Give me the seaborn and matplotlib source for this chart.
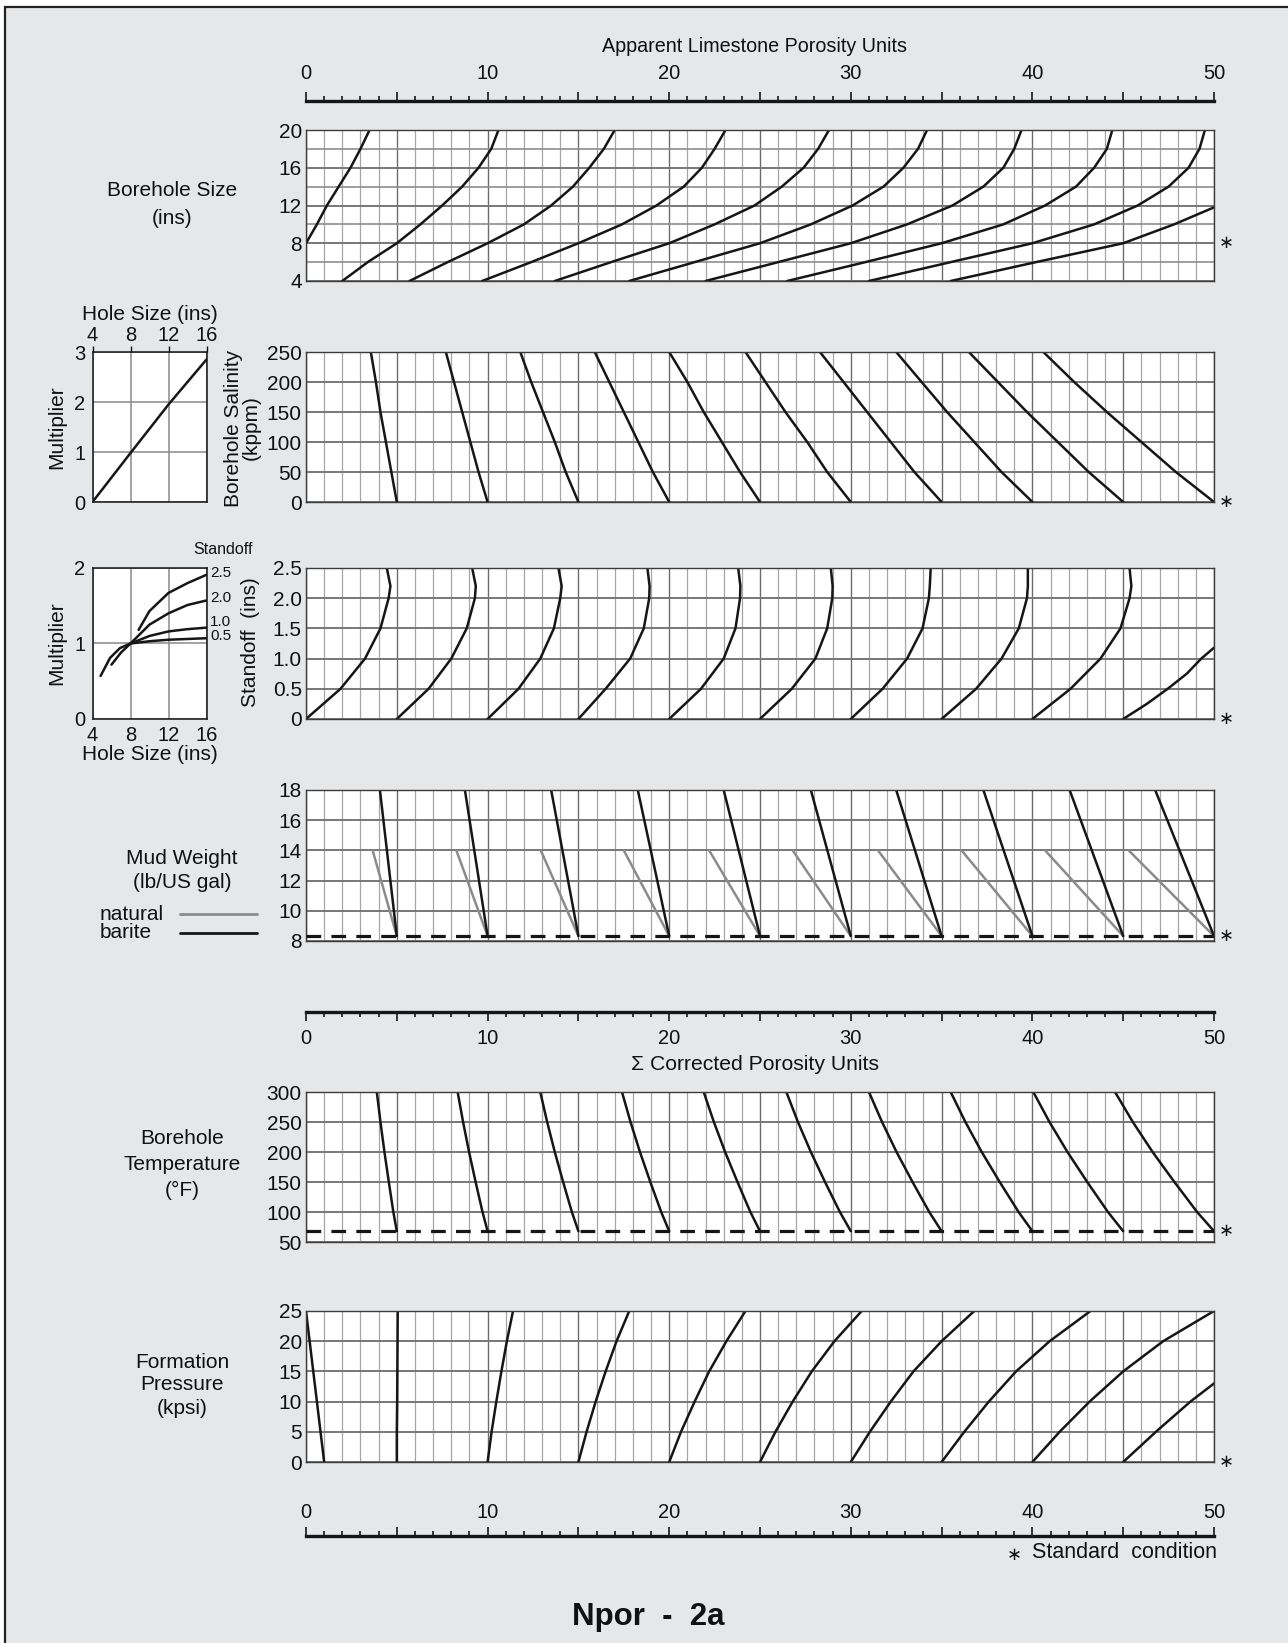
import numpy as np
import pandas as pd
import matplotlib
matplotlib.use("Agg")
import matplotlib.pyplot as plt
import seaborn as sns
from matplotlib.ticker import MultipleLocator, FixedLocator, FuncFormatter
from matplotlib.patches import Rectangle
from matplotlib.lines import Line2D
from matplotlib import font_manager

# ---------------- data ----------------
# Borehole size (ins) -> apparent porosity along each curve
BS_LEVELS = [4, 6, 8, 10, 12, 14, 16, 18, 20]
BS_C00_LEVELS = [8, 10, 12, 14, 16, 18, 20]
BS_C00 = [0.0, 0.6, 1.15, 1.8, 2.45, 3.0, 3.5]
BS_C05 = [2.0, 3.4, 5.0, 6.3, 7.5, 8.6, 9.5, 10.2, 10.6]
BS_C10 = [5.7, 7.8, 10.0, 12.0, 13.5, 14.7, 15.6, 16.4, 17.0]
BS_C15 = [9.7, 12.4, 15.0, 17.4, 19.3, 20.8, 21.8, 22.5, 23.1]
BS_C20 = [13.7, 16.8, 20.0, 22.5, 24.7, 26.2, 27.4, 28.2, 28.8]
BS_C25 = [17.8, 21.4, 25.0, 27.8, 30.1, 31.8, 32.9, 33.7, 34.2]
BS_C30 = [22.0, 26.0, 30.0, 33.1, 35.6, 37.3, 38.4, 39.0, 39.4]
BS_C35 = [26.5, 30.8, 35.0, 38.4, 40.7, 42.4, 43.4, 44.1, 44.4]
BS_C40 = [31.0, 35.5, 40.0, 43.4, 45.8, 47.5, 48.6, 49.2, 49.5]
BS_C45_LEVELS = [4, 6, 8, 10, 11.8]
BS_C45 = [35.5, 40.2, 45.0, 47.8, 50.0]

# Borehole salinity (kppm)
SAL_LEVELS = [0, 50, 100, 150, 200, 250]
SAL_C05 = [5.0, 4.7, 4.4, 4.1, 3.85, 3.57]
SAL_C10 = [10.0, 9.5, 9.05, 8.6, 8.15, 7.7]
SAL_C15 = [15.0, 14.3, 13.7, 13.05, 12.4, 11.8]
SAL_C20 = [20.0, 19.1, 18.3, 17.5, 16.7, 15.9]
SAL_C25 = [25.0, 23.9, 22.9, 21.9, 21.0, 20.0]
SAL_C30 = [30.0, 28.7, 27.6, 26.4, 25.3, 24.2]
SAL_C35 = [35.0, 33.5, 32.2, 30.9, 29.6, 28.3]
SAL_C40 = [40.0, 38.3, 36.8, 35.3, 33.9, 32.5]
SAL_C45 = [45.0, 43.1, 41.4, 39.7, 38.1, 36.5]
SAL_C50 = [50.0, 47.9, 46.0, 44.1, 42.3, 40.6]

# Standoff (ins)
SO_LEVELS = [0, 0.5, 1.0, 1.5, 2.0, 2.2, 2.5]
SO_C00 = [0.0, 1.9, 3.25, 4.1, 4.55, 4.65, 4.45]
SO_C05 = [5.0, 6.75, 8.0, 8.85, 9.3, 9.35, 9.15]
SO_C10 = [10.0, 11.7, 12.9, 13.65, 14.0, 14.08, 13.9]
SO_C15 = [15.0, 16.5, 17.85, 18.6, 18.9, 18.92, 18.8]
SO_C20 = [20.0, 21.75, 23.0, 23.65, 23.9, 23.92, 23.8]
SO_C25 = [25.0, 26.75, 28.05, 28.7, 28.98, 29.0, 28.9]
SO_C30 = [30.0, 31.75, 33.1, 33.95, 34.3, 34.35, 34.4]
SO_C35 = [35.0, 36.9, 38.3, 39.25, 39.7, 39.75, 39.75]
SO_C40 = [40.0, 42.1, 43.75, 44.85, 45.35, 45.45, 45.35]
SO_C45_LEVELS = [0, 0.25, 0.5, 0.75, 1.0, 1.18]
SO_C45 = [45.0, 46.3, 47.45, 48.5, 49.3, 50.0]

# Mud weight (lb/US gal)
MW_STANDARD = 8.33
MW_P = [5, 10, 15, 20, 25, 30, 35, 40, 45, 50]
MW_BARITE_TOP_LEVEL = 18
MW_BARITE_TOP = [4.07, 8.75, 13.5, 18.27, 23.0, 27.8, 32.5, 37.3, 42.05, 46.76]
MW_NATURAL_TOP_LEVEL = 14
MW_NATURAL_TOP = [3.67, 8.28, 12.93, 17.5, 22.2, 26.8, 31.5, 36.1, 40.7, 45.3]

# Borehole temperature (degF)
T_STANDARD = 68
T_LEVELS = [68, 100, 150, 200, 250, 300]
T_C05 = [5.0, 4.81, 4.56, 4.32, 4.10, 3.9]
T_C10 = [10.0, 9.72, 9.34, 8.98, 8.65, 8.35]
T_C15 = [15.0, 14.64, 14.16, 13.70, 13.28, 12.9]
T_C20 = [20.0, 19.56, 18.96, 18.39, 17.87, 17.4]
T_C25 = [25.0, 24.47, 23.76, 23.08, 22.46, 21.9]
T_C30 = [30.0, 29.40, 28.58, 27.80, 27.09, 26.45]
T_C35 = [35.0, 34.32, 33.40, 32.52, 31.72, 31.0]
T_C40 = [40.0, 39.24, 38.20, 37.21, 36.31, 35.5]
T_C45 = [45.0, 44.16, 43.02, 41.93, 40.94, 40.05]
T_C50 = [50.0, 49.07, 47.82, 46.62, 45.53, 44.55]

# Formation pressure (kpsi)
FP_LEVELS = [0, 5, 10, 15, 20, 25]
FP_C00 = [1.0, 0.8, 0.6, 0.4, 0.2, 0.0]
FP_C05 = [5.0, 5.0, 5.02, 5.03, 5.04, 5.05]
FP_C10 = [10.0, 10.22, 10.48, 10.76, 11.06, 11.4]
FP_C15 = [15.0, 15.45, 15.95, 16.5, 17.1, 17.8]
FP_C20 = [20.0, 20.65, 21.4, 22.2, 23.15, 24.2]
FP_C25 = [25.0, 25.85, 26.8, 27.85, 29.1, 30.6]
FP_C30 = [30.0, 31.05, 32.2, 33.45, 35.0, 36.8]
FP_C35 = [35.0, 36.25, 37.6, 39.1, 40.95, 43.2]
FP_C40 = [40.0, 41.5, 43.15, 45.0, 47.2, 50.0]
FP_C45_LEVELS = [0, 5, 10, 13]
FP_C45 = [45.0, 46.8, 48.7, 50.0]

# Inset 1: salinity multiplier vs hole size
INS1_HOLE = [4, 8, 12, 16]
INS1_MULT = [0.0, 0.98, 1.95, 2.85]

# Inset 2: standoff multiplier vs hole size
INS2_LABELS = ["2.5", "2.0", "1.0", "0.5"]
INS2_LABEL_Y = [1.94, 1.60, 1.28, 1.10]
INS2_H25 = [8.85, 10, 12, 14, 16]
INS2_M25 = [1.18, 1.43, 1.67, 1.80, 1.91]
INS2_H20 = [6.0, 7.0, 8.0, 10, 12, 14, 16]
INS2_M20 = [0.72, 0.88, 1.0, 1.25, 1.40, 1.51, 1.57]
INS2_H10 = [4.85, 5.85, 6.9, 8.0, 10, 12, 14, 16]
INS2_M10 = [0.57, 0.81, 0.94, 1.0, 1.10, 1.16, 1.19, 1.21]
INS2_H05 = [8.0, 10, 12, 14, 16]
INS2_M05 = [1.0, 1.03, 1.05, 1.06, 1.07]

SCALE_TICKS = [0, 10, 20, 30, 40, 50]

# ---------------- style ----------------
sns.set_theme(style="white")
names = {f.name for f in font_manager.fontManager.ttflist}
FONT = "Liberation Sans" if "Liberation Sans" in names else "DejaVu Sans"
plt.rcParams["font.family"] = [FONT, "DejaVu Sans"]
plt.rcParams["text.color"] = "#111111"
plt.rcParams["axes.labelcolor"] = "#111111"
plt.rcParams["xtick.color"] = "#111111"
plt.rcParams["ytick.color"] = "#111111"

W, H = 1288, 1643
fig = plt.figure(figsize=(W / 100, H / 100), dpi=100)
fig.patch.set_facecolor("white")
fig.add_artist(Rectangle((5 / W, -0.05), 1.1, 1 - 7 / H + 0.05, transform=fig.transFigure,
                         facecolor="#e6e7e9", edgecolor="#222222", lw=1.6, zorder=-10))

INK = "#161616"
TICK_FS = 15
SCALE_FS = 14.5
LABEL_FS = 15


def add_axes_px(x0, y0, x1, y1):
    return fig.add_axes([x0 / W, 1 - y1 / H, (x1 - x0) / W, (y1 - y0) / H])


def ftext(x, y, s, **kw):
    kw.setdefault("ha", "center")
    kw.setdefault("va", "center")
    kw.setdefault("fontsize", LABEL_FS)
    fig.text(x / W, 1 - y / H, s, **kw)


def curves_df(levels, xs_list):
    rows = []
    for i, (lv, xs) in enumerate(zip(levels, xs_list)):
        for l, x in zip(lv, xs):
            rows.append((i, x, l))
    return pd.DataFrame(rows, columns=["curve", "x", "y"])


def draw(ax, df, color=INK, lw=1.8):
    sns.lineplot(data=df, x="x", y="y", units="curve", estimator=None, sort=False,
                 color=color, lw=lw, ax=ax, legend=False)
    for ln in ax.get_lines():
        ln.set_solid_joinstyle("round")
    ax.set_xlabel("")
    ax.set_ylabel("")


XL, XR = 306, 1214


def main_panel(y0, y1, ylim, yticks, ylabels=None, yminor=None):
    ax = add_axes_px(XL, y0, XR, y1)
    ax.set_facecolor("white")
    ax.set_xlim(0, 50)
    ax.set_ylim(*ylim)
    ax.xaxis.set_major_locator(MultipleLocator(5))
    ax.xaxis.set_minor_locator(MultipleLocator(1))
    ax.set_yticks(yticks)
    if ylabels is not None:
        ax.set_yticklabels(ylabels)
    if yminor is not None:
        ax.yaxis.set_minor_locator(FixedLocator(yminor))
    ax.tick_params(axis="x", which="both", length=0, labelbottom=False)
    ax.tick_params(axis="y", which="both", length=0, labelsize=TICK_FS, pad=3)
    ax.grid(True, which="major", axis="x", color="#6c6c6c", lw=1.0)
    ax.grid(True, which="minor", axis="x", color="#a6a6a6", lw=0.9)
    ax.grid(True, which="major", axis="y", color="#777777", lw=1.4)
    ax.grid(True, which="minor", axis="y", color="#8e8e8e", lw=1.2)
    ax.set_axisbelow(True)
    for s in ax.spines.values():
        s.set_visible(True)
        s.set_color("#3c3c3c")
        s.set_linewidth(1.0)
    return ax


def star(ax, yval):
    ax.text(50.66, yval, "\u2217", ha="center", va="center", fontsize=13,
            family="DejaVu Sans", clip_on=False, color=INK)


def scale_axis(yline, up=True, labelpad=11.0):
    ax = add_axes_px(XL, yline - 0.5, XR, yline + 0.5)
    ax.patch.set_visible(False)
    ax.set_xlim(0, 50)
    ax.set_ylim(0, 1)
    ax.set_yticks([])
    for k in ["top", "left", "right"]:
        ax.spines[k].set_visible(False)
    ax.spines["bottom"].set_color(INK)
    ax.spines["bottom"].set_linewidth(2.4)
    ax.xaxis.set_major_locator(FixedLocator(list(range(0, 51, 5))))
    ax.xaxis.set_minor_locator(MultipleLocator(1))
    ax.xaxis.set_major_formatter(FuncFormatter(
        lambda v, p: f"{int(round(v))}" if int(round(v)) in SCALE_TICKS else ""))
    ax.tick_params(axis="x", which="both", direction="in" if up else "out",
                   bottom=True, top=False, labelbottom=not up, labeltop=up,
                   width=1.2, color=INK)
    ax.tick_params(axis="x", which="major", length=6.5, pad=labelpad, labelsize=SCALE_FS)
    ax.tick_params(axis="x", which="minor", length=3.5)
    return ax


# ---------------- top scale ----------------
scale_axis(100, up=True, labelpad=12)
ftext(755, 46, "Apparent Limestone Porosity Units", fontsize=14.2)

# ---------------- panel 1: borehole size ----------------
ax1 = main_panel(130, 281, (4, 20), [4, 8, 12, 16, 20], yminor=[6, 10, 14, 18])
bs_levels = [BS_C00_LEVELS] + [BS_LEVELS] * 8 + [BS_C45_LEVELS]
bs_xs = [BS_C00, BS_C05, BS_C10, BS_C15, BS_C20, BS_C25, BS_C30, BS_C35, BS_C40, BS_C45]
draw(ax1, curves_df(bs_levels, bs_xs))
star(ax1, 8)
ftext(172, 190, "Borehole Size")
ftext(172, 219, "(ins)")

# ---------------- panel 2: salinity ----------------
ax2 = main_panel(352, 502, (0, 250), [0, 50, 100, 150, 200, 250])
sal_xs = [SAL_C05, SAL_C10, SAL_C15, SAL_C20, SAL_C25, SAL_C30, SAL_C35, SAL_C40, SAL_C45, SAL_C50]
draw(ax2, curves_df([SAL_LEVELS] * 10, sal_xs))
star(ax2, 0)
ftext(242, 428, "Borehole Salinity\n(kppm)", rotation=90, linespacing=0.92)

# ---------------- panel 3: standoff ----------------
ax3 = main_panel(568, 719, (0, 2.5), [0, 0.5, 1.0, 1.5, 2.0, 2.5],
                 ylabels=["0", "0.5", "1.0", "1.5", "2.0", "2.5"])
so_levels = [SO_LEVELS] * 9 + [SO_C45_LEVELS]
so_xs = [SO_C00, SO_C05, SO_C10, SO_C15, SO_C20, SO_C25, SO_C30, SO_C35, SO_C40, SO_C45]
draw(ax3, curves_df(so_levels, so_xs))
star(ax3, 0)
ftext(250, 642, "Standoff  (ins)", rotation=90)

# ---------------- panel 4: mud weight ----------------
ax4 = main_panel(790, 941, (8, 18), [8, 10, 12, 14, 16, 18])
nat_df = curves_df([[MW_STANDARD, MW_NATURAL_TOP_LEVEL]] * 10,
                   [[p, t] for p, t in zip(MW_P, MW_NATURAL_TOP)])
bar_df = curves_df([[MW_STANDARD, MW_BARITE_TOP_LEVEL]] * 10,
                   [[p, t] for p, t in zip(MW_P, MW_BARITE_TOP)])
draw(ax4, nat_df, color="#8b8b8b", lw=1.8)
draw(ax4, bar_df, color=INK, lw=1.8)
ax4.axhline(MW_STANDARD, color=INK, lw=2.3, ls=(0, (4.6, 3.2)), zorder=3)
star(ax4, MW_STANDARD)
ftext(182, 859, "Mud Weight")
ftext(182, 883, "(lb/US gal)")
ftext(100, 914, "natural", ha="left")
ftext(100, 933, "barite", ha="left")
fig.add_artist(Line2D([180 / W, 257 / W], [1 - 914 / H, 1 - 914 / H], color="#8b8b8b", lw=2.0))
fig.add_artist(Line2D([180 / W, 257 / W], [1 - 933 / H, 1 - 933 / H], color=INK, lw=2.0))

# ---------------- middle scale ----------------
scale_axis(1011, up=False, labelpad=6.0)
ftext(755, 1065, "\u03A3 Corrected Porosity Units", fontsize=15.2)

# ---------------- panel 5: temperature ----------------
ax5 = main_panel(1092, 1242, (50, 300), [50, 100, 150, 200, 250, 300])
t_xs = [T_C05, T_C10, T_C15, T_C20, T_C25, T_C30, T_C35, T_C40, T_C45, T_C50]
draw(ax5, curves_df([T_LEVELS] * 10, t_xs))
ax5.axhline(T_STANDARD, color=INK, lw=2.3, ls=(0, (4.6, 3.2)), zorder=3)
star(ax5, T_STANDARD)
ftext(182, 1139, "Borehole")
ftext(182, 1164, "Temperature")
ftext(182, 1190, "(\u00B0F)")

# ---------------- panel 6: pressure ----------------
ax6 = main_panel(1311, 1462, (0, 25), [0, 5, 10, 15, 20, 25])
fp_levels = [FP_LEVELS] * 9 + [FP_C45_LEVELS]
fp_xs = [FP_C00, FP_C05, FP_C10, FP_C15, FP_C20, FP_C25, FP_C30, FP_C35, FP_C40, FP_C45]
draw(ax6, curves_df(fp_levels, fp_xs))
star(ax6, 0)
ftext(182, 1362, "Formation")
ftext(182, 1385, "Pressure")
ftext(182, 1409, "(kpsi)")

# ---------------- bottom scale ----------------
scale_axis(1535, up=True, labelpad=9)
ftext(1014, 1555, "\u2217", fontsize=13, family="DejaVu Sans")
ftext(1217, 1552, "Standard  condition", ha="right", fontsize=15.5)

ftext(648, 1617, "Npor  -  2a", fontsize=22.5, fontweight="bold")


# ---------------- insets ----------------
def inset(y0, y1, ylim, yticks, top):
    ax = add_axes_px(92.5, y0, 206.5, y1)
    ax.set_facecolor("white")
    ax.set_xlim(4, 16)
    ax.set_ylim(*ylim)
    ax.set_xticks([4, 8, 12, 16])
    ax.set_yticks(yticks)
    ax.grid(True, color="#8a8a8a", lw=1.1)
    ax.set_axisbelow(True)
    for s in ax.spines.values():
        s.set_visible(True)
        s.set_color(INK)
        s.set_linewidth(1.1)
    if top:
        ax.xaxis.tick_top()
        ax.xaxis.set_label_position("top")
    ax.tick_params(axis="both", direction="out", length=4, width=1.0, labelsize=14.5, pad=1.0)
    return ax


ia = inset(352, 502, (0, 3), [0, 1, 2, 3], top=True)
sns.lineplot(x=INS1_HOLE, y=INS1_MULT, color=INK, lw=1.8, ax=ia)
ia.set_xlabel("Hole Size (ins)", fontsize=LABEL_FS, labelpad=4)
ia.set_ylabel("Multiplier", fontsize=LABEL_FS, labelpad=6)

ib = inset(568, 719, (0, 2), [0, 1, 2], top=False)
ins2_df = curves_df([INS2_M25, INS2_M20, INS2_M10, INS2_M05],
                    [INS2_H25, INS2_H20, INS2_H10, INS2_H05])
sns.lineplot(data=ins2_df, x="x", y="y", units="curve", estimator=None, sort=False,
             color=INK, lw=1.8, ax=ib, legend=False)
ib.set_xlabel("Hole Size (ins)", fontsize=LABEL_FS, labelpad=0)
ib.set_ylabel("Multiplier", fontsize=LABEL_FS, labelpad=6)
for lab, yv in zip(INS2_LABELS, INS2_LABEL_Y):
    ib.text(16.4, yv, lab, fontsize=11, ha="left", va="center", clip_on=False)
ib.text(17.7, 2.24, "Standoff", fontsize=11.5, ha="center", va="center", clip_on=False)

fig.savefig("out.png", dpi=100, facecolor=fig.get_facecolor())
